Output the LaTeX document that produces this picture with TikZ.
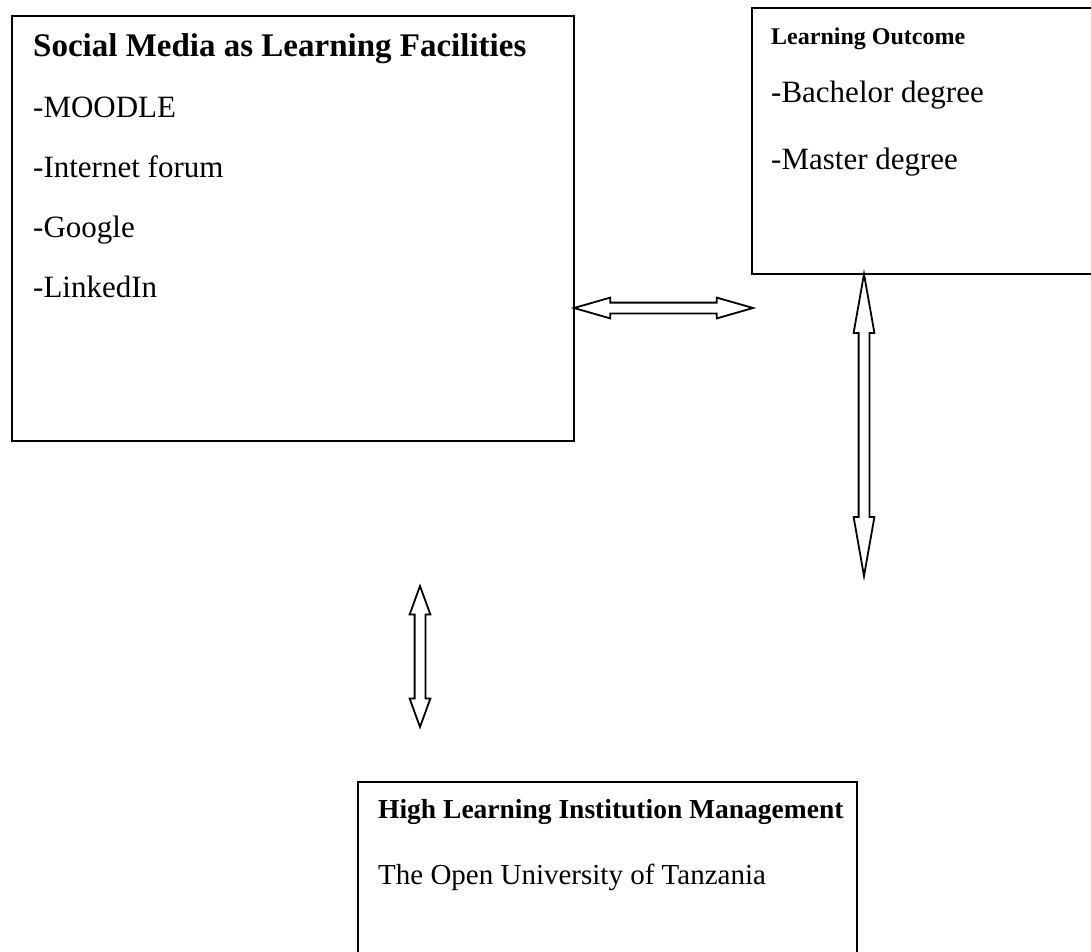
\documentclass[tikz,border=0pt]{standalone}
\usepackage{fontspec}
\setmainfont{Liberation Serif}
\usetikzlibrary{shapes.arrows, positioning}

\tikzset{
  box/.style={draw, line width=2pt, anchor=north west, inner sep=0pt},
  item/.style={anchor=base west, inner sep=0pt, font=\fontsize{31}{36}\selectfont},
  head/.style={item, font=\fontsize{27.5}{32}\selectfont\bfseries},
  dblarrow/.style={draw, line width=1.8pt, shape=double arrow, inner sep=0pt, inner ysep=4.5pt,
    double arrow head extend=5pt, double arrow head indent=0pt, fill=white},
}

\begin{document}
\begin{tikzpicture}[x=1pt, y=-1pt]

        \clip (0,0) rectangle (1091,951);

        \def\leftx{33}
        \def\rowgap{60}

        % social media box
        \node[box, minimum width=562pt, minimum height=425pt] (media) at (11,15) {};
        \node[head, font=\fontsize{33}{36}\selectfont\bfseries] (mediaT) at (\leftx, 56) {Social Media as Learning Facilities};
        \foreach \txt [count=\i] in {-MOODLE, -Internet forum, -Google, -LinkedIn} {
                \node[item] (fac\i) at (\leftx, 57 + \i*\rowgap) {\txt};
            }

        % learning outcome box
        \node[box, minimum width=360pt, minimum height=266pt] (outcome) at (751,7) {};
        \node[head, font=\fontsize{24}{28}\selectfont\bfseries] (outcomeT) at (771,44) {Learning Outcome};
        \node[item] (bachelor) at (771,102) {-Bachelor degree};
        \node[item] (master) at (771,169) {-Master degree};

        % institution box
        \node[box, minimum width=499pt, minimum height=200pt] (inst) at (357,781) {};
        \node[head] (instT) at (378,818) {High Learning Institution Management};
        \node[item, font=\fontsize{29}{34}\selectfont] (ouT) at (378,884) {The Open University of Tanzania};

        % arrows
        \coordinate (h1) at (media.east |- 0,308);
        \coordinate (h2) at (752,308);
        \path (h1) -- node[dblarrow, double arrow tip angle=32, minimum height=179pt] (arrH) {} (h2);

        \coordinate (v1) at (outcome.south west -| 864,0);
        \coordinate (v2) at (864,575);
        \path (v1) -- node[dblarrow, rotate=90, double arrow tip angle=20, minimum height=302pt] (arrV) {} (v2);

        \coordinate (m1) at (420,586);
        \coordinate (m2) at (420,727);
        \path (m1) -- node[dblarrow, rotate=90, double arrow tip angle=40, minimum height=141pt] (arrM) {} (m2);

    \end{tikzpicture}
\end{document}
